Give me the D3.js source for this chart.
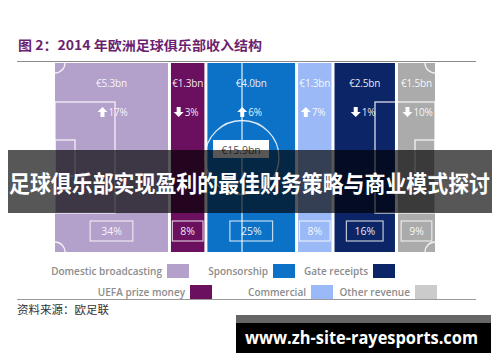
<!DOCTYPE html>
<html>
<head>
<meta charset="utf-8">
<script src="https://cdn.jsdelivr.net/npm/d3@7"></script>
<style>
  body { margin: 0; background: #fff; }
  svg { display: block; }
</style>
</head>
<body>
<svg id="chart" width="500" height="362"></svg>
<script>
// revenue structure of European clubs, 2014
const categories = ["Domestic broadcasting", "UEFA prize money", "Sponsorship", "Commercial", "Gate receipts", "Other revenue"];
const revenue = ["€5.3bn", "€1.3bn", "€4.0bn", "€1.3bn", "€2.5bn", "€1.5bn"];
const change = [17, -3, 6, 7, -1, -10];
const share = [34, 8, 25, 8, 16, 9];
const totalLabel = "€15.9bn";
const colors = ["#b3a0cb", "#6b0f5f", "#0b72c8", "#9bb9f6", "#0b2566", "#ababab"];
const legendColors = ["#b3a0cb", "#6b0f5f", "#0b72c8", "#9bb9f6", "#0b2566", "#cbcbcb"];

const svg = d3.select("#chart");
const latin = "'Open Sans', 'Noto Sans', sans-serif";
const cjk = "'Noto Sans CJK SC', sans-serif";

// title + rules
svg.append("text")
    .attr("x", 18).attr("y", 50)
    .attr("font-family", cjk).attr("font-weight", 700).attr("font-size", 13)
    .attr("fill", "#6b1f70")
    .attr("textLength", 244).attr("lengthAdjust", "spacingAndGlyphs")
    .text("图 2：2014 年欧洲足球俱乐部收入结构");

svg.append("line").attr("x1", 17).attr("x2", 476).attr("y1", 61.5).attr("y2", 61.5)
    .attr("stroke", "#8a8a8a").attr("stroke-width", 1.2);
svg.append("line").attr("x1", 17).attr("x2", 476).attr("y1", 299.5).attr("y2", 299.5)
    .attr("stroke", "#9a9a9a").attr("stroke-width", 1.2);

// scales: column width follows share (softened so small columns stay readable)
const weight = d3.scalePow().exponent(0.8).domain([0, 1]).range([0, 1]);
const w = share.map(weight);
const cum = d3.cumsum(w);
const starts = w.map((d, i) => cum[i] - d);
const gap = 3;
const x = d3.scaleLinear().domain([0, d3.sum(w)]).range([55, 435 + gap]);
const y = d3.scaleLinear().domain([0, 1]).range([252, 63]);

const cols = svg.append("g").selectAll("g")
    .data(categories)
    .join("g");

cols.append("rect")
    .attr("x", (d, i) => x(starts[i]))
    .attr("y", y(1))
    .attr("width", (d, i) => x(cum[i]) - x(starts[i]) - gap)
    .attr("height", y(0) - y(1))
    .attr("fill", (d, i) => colors[i]);

const cx = (i) => (x(starts[i]) + x(cum[i]) - gap) / 2;

// pitch markings
const pitch = svg.append("g")
    .attr("fill", "none").attr("stroke", "#fff").attr("stroke-opacity", 0.85).attr("stroke-width", 1.3);
const pLeft = x(0), pRight = x(d3.sum(w)) - gap, pTop = y(1), pBottom = y(0);
const midX = (pLeft + pRight) / 2 - 3, midY = (pTop + pBottom) / 2;
pitch.append("line").attr("x1", midX).attr("x2", midX).attr("y1", pTop).attr("y2", pBottom);
pitch.append("circle").attr("cx", midX).attr("cy", midY).attr("r", 37);
pitch.append("rect").attr("x", pLeft).attr("y", 102).attr("width", 60).attr("height", 111);
pitch.append("rect").attr("x", pLeft).attr("y", 140).attr("width", 20).attr("height", 36);
pitch.append("rect").attr("x", pRight - 60).attr("y", 102).attr("width", 60).attr("height", 111);
pitch.append("rect").attr("x", pRight - 20).attr("y", 140).attr("width", 20).attr("height", 36);
[[pLeft, pTop, 90, 180], [pRight, pTop, 180, 270], [pLeft, pBottom, 0, 90], [pRight, pBottom, 270, 360]].forEach(c => {
    pitch.append("path")
        .attr("transform", `translate(${c[0]},${c[1]})`)
        .attr("d", d3.arc()({ innerRadius: 10, outerRadius: 10, startAngle: c[2] * Math.PI / 180, endAngle: c[3] * Math.PI / 180 }));
});

// labels inside columns
cols.append("text")
    .attr("x", (d, i) => cx(i)).attr("y", 87)
    .attr("text-anchor", "middle")
    .attr("font-family", latin).attr("font-size", 10)
    .attr("letter-spacing", -0.2)
    .attr("fill", "#fff").attr("fill-opacity", 0.92)
    .text((d, i) => revenue[i]);

const changeG = cols.append("g")
    .attr("transform", (d, i) => `translate(${cx(i)},112)`);
changeG.append("path")
    .attr("transform", "translate(-9,0)")
    .attr("d", (d, i) => change[i] > 0
        ? "M0,-5 L5,0 L2,0 L2,5 L-2,5 L-2,0 L-5,0 Z"
        : "M0,5 L5,0 L2,0 L2,-5 L-2,-5 L-2,0 L-5,0 Z")
    .attr("fill", "#fff");
changeG.append("text")
    .attr("x", -3).attr("y", 4)
    .attr("font-family", latin).attr("font-size", 10)
    .attr("letter-spacing", -0.2)
    .attr("fill", "#fff").attr("fill-opacity", 0.92)
    .text((d, i) => Math.abs(change[i]) + "%");

// share boxes
cols.each(function (d, i) {
    const g = d3.select(this);
    const t = g.append("text")
        .attr("x", cx(i)).attr("y", 235)
        .attr("text-anchor", "middle")
        .attr("font-family", latin).attr("font-size", 10.5)
        .attr("fill", "#fff").attr("fill-opacity", 0.92)
        .text(share[i] + "%");
    const bw = t.node().getComputedTextLength() + (share[i] >= 20 ? 22 : 16);
    g.insert("rect", "text")
        .attr("x", cx(i) - bw / 2).attr("y", 221)
        .attr("width", bw).attr("height", 20)
        .attr("fill", "none").attr("stroke", "#fff").attr("stroke-opacity", 0.75).attr("stroke-width", 1.2);
});

// total
svg.append("rect").attr("x", 213).attr("y", 140).attr("width", 56).attr("height", 18).attr("fill", "#fff");
svg.append("text")
    .attr("x", 241).attr("y", 153.5).attr("text-anchor", "middle")
    .attr("font-family", latin).attr("font-size", 10.5).attr("fill", "#555")
    .text(totalLabel);

// legend
const legendSlots = [[167, 271], [190, 292], [273, 271], [311, 292], [373, 271], [415, 292]];
const legend = svg.append("g").selectAll("g").data(categories).join("g")
    .attr("transform", (d, i) => `translate(${legendSlots[i][0]},${legendSlots[i][1]})`);
legend.append("rect").attr("x", 0).attr("y", -7).attr("width", 22).attr("height", 14)
    .attr("fill", (d, i) => legendColors[i]);
legend.append("text")
    .attr("x", -5).attr("y", 3.5).attr("text-anchor", "end")
    .attr("font-family", latin).attr("font-size", 10).attr("font-weight", 600)
    .attr("fill", "#8c8c8c")
    .text(d => d);

// source
svg.append("text")
    .attr("x", 17).attr("y", 314)
    .attr("font-family", cjk).attr("font-size", 11.5).attr("fill", "#333")
    .text("资料来源：欧足联");

// overlay banner
svg.append("rect").attr("x", 8).attr("y", 150).attr("width", 484).attr("height", 63)
    .attr("fill", "#000").attr("fill-opacity", 0.66);
svg.append("text")
    .attr("x", 9).attr("y", 192)
    .attr("font-family", cjk).attr("font-weight", 700).attr("font-size", 23)
    .attr("fill", "#fff")
    .attr("textLength", 481).attr("lengthAdjust", "spacingAndGlyphs")
    .text("足球俱乐部实现盈利的最佳财务策略与商业模式探讨");

// watermark
svg.append("rect").attr("x", 236).attr("y", 315).attr("width", 255).attr("height", 8).attr("fill", "#666");
svg.append("rect").attr("x", 236).attr("y", 323).attr("width", 255).attr("height", 30).attr("fill", "#000");
svg.append("text")
    .attr("x", 245).attr("y", 344)
    .attr("font-family", latin).attr("font-weight", 700).attr("font-size", 17)
    .attr("fill", "#fff")
    .attr("textLength", 233).attr("lengthAdjust", "spacingAndGlyphs")
    .text("www.zh-site-rayesports.com");
</script>
</body>
</html>
